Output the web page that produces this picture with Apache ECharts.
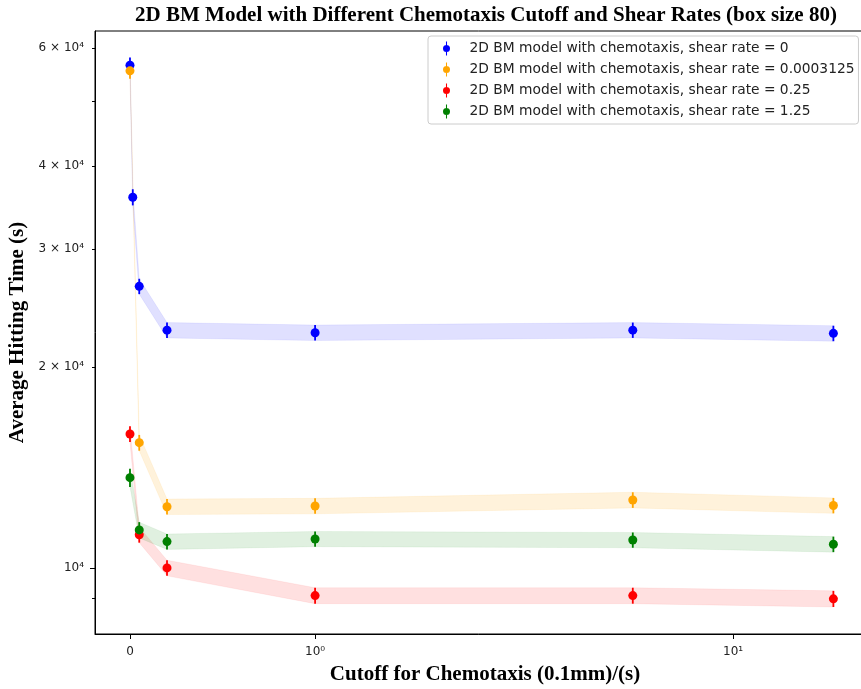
<!DOCTYPE html>
<html>
<head>
<meta charset="utf-8">
<script src="https://cdn.jsdelivr.net/npm/echarts@6/dist/echarts.min.js"></script>
<style>html,body{margin:0;padding:0;background:#fff}#c{width:861px;height:689px}</style>
</head>
<body>
<div id="c"></div>
<script>
// ---------------- data ----------------
const titleText = '2D BM Model with Different Chemotaxis Cutoff and Shear Rates (box size 80)';
const xAxisTitle = 'Cutoff for Chemotaxis (0.1mm)/(s)';
const yAxisTitle = 'Average Hitting Time (s)';

const seriesNames = [
  '2D BM model with chemotaxis, shear rate = 0',
  '2D BM model with chemotaxis, shear rate = 0.0003125',
  '2D BM model with chemotaxis, shear rate = 0.25',
  '2D BM model with chemotaxis, shear rate = 1.25'
];
const seriesColors = ['#0000ff', '#ffa500', '#ff0000', '#008000'];
const bandColors = ['rgba(0,0,255,0.12)', 'rgba(255,165,0,0.14)', 'rgba(255,0,0,0.12)', 'rgba(0,128,0,0.12)'];
const bandEdges  = ['rgba(0,0,255,0.06)', 'rgba(255,165,0,0.08)', 'rgba(255,0,0,0.06)', 'rgba(0,128,0,0.06)'];

// cutoff values (x)
const xBlue   = [0, 0.015, 0.05, 0.2, 1, 5, 20];
const xOrange = [0, 0.05, 0.2, 1, 5, 20];
const xRed    = [0, 0.05, 0.2, 1, 5, 20];
const xGreen  = [0, 0.05, 0.2, 1, 5, 20];

// average hitting time (s) and error
const blueVals   = [56600, 35900, 26400, 22700, 22500, 22700, 22450];
const blueErr    = [1500, 1000, 700, 600, 600, 600, 600];
const orangeVals = [55500, 15400, 12350, 12380, 12640, 12400];
const orangeErr  = [1500, 420, 330, 330, 340, 330];
const redVals    = [15870, 11210, 10000, 9090, 9090, 8990];
const redErr     = [430, 300, 270, 250, 250, 250];
const greenVals  = [13650, 11400, 10950, 11050, 11010, 10850];
const greenErr   = [430, 310, 290, 290, 290, 290];

// ticks
const xTickValues = [0, 1, 10];
const xTickLabels = ['0', '10\u2070', '10\u00B9'];
const yTickValues = [10000, 20000, 30000, 40000, 60000];
const yTickLabels = ['10\u2074', '2 \u00D7 10\u2074', '3 \u00D7 10\u2074', '4 \u00D7 10\u2074', '6 \u00D7 10\u2074'];
const yMinorTickValues = [9000, 20000, 30000, 40000, 50000, 60000];
const yMajorTickValues = [10000];

// axis ranges
const xRangeSymlog = [-0.21, 4.472];   // in symlog units
const yRange = [7963, 63670];

// ---------------- scales (matplotlib-like symlog on x, log on y) ----------------
const LINTHRESH = 2, LINSCALE_ADJ = 1 / (1 - 1 / 10);
function symlog(x) {
  const a = Math.abs(x), s = Math.sign(x);
  return a <= LINTHRESH ? x * LINSCALE_ADJ : s * LINTHRESH * (LINSCALE_ADJ + Math.log10(a / LINTHRESH));
}
const lg = Math.log10;

const xs = [xBlue, xOrange, xRed, xGreen];
const vals = [blueVals, orangeVals, redVals, greenVals];
const errs = [blueErr, orangeErr, redErr, greenErr];

function fmtFrom(tickVals, tickLabels, tf) {
  return function (v) {
    for (let i = 0; i < tickVals.length; i++) {
      if (Math.abs(tf(tickVals[i]) - v) < 1e-6) return tickLabels[i];
    }
    return '';
  };
}

const series = [];
for (let k = 0; k < 4; k++) {
  const X = xs[k], V = vals[k], E = errs[k];
  const errData = X.map((x, i) => [symlog(x), lg(V[i] - E[i]), lg(V[i] + E[i])]);
  // band (fill between value-err and value+err)
  series.push({
    type: 'custom', name: 'band_' + k, silent: true,
    data: errData, encode: { x: 0, y: [1, 2] },
    renderItem: (function (fill, edge) {
      return function (params, api) {
        if (params.dataIndexInside !== 0) return null;
        const n = params.dataInsideLength;
        const lower = [], upper = [];
        for (let i = 0; i < n; i++) {
          lower.push(api.coord([api.value(0, i), api.value(1, i)]));
          upper.push(api.coord([api.value(0, i), api.value(2, i)]));
        }
        return { type: 'polygon', shape: { points: lower.concat(upper.reverse()) },
                 style: { fill: fill, stroke: edge, lineWidth: 1 } };
      };
    })(bandColors[k], bandEdges[k]),
    z: 1
  });
  // error bars
  series.push({
    type: 'custom', name: 'err_' + k, silent: true,
    data: errData, encode: { x: 0, y: [1, 2] },
    renderItem: (function (col) {
      return function (params, api) {
        const p1 = api.coord([api.value(0), api.value(1)]);
        const p2 = api.coord([api.value(0), api.value(2)]);
        return { type: 'line', shape: { x1: p1[0], y1: p1[1], x2: p2[0], y2: p2[1] },
                 style: { stroke: col, lineWidth: 1.8 } };
      };
    })(seriesColors[k]),
    z: 3
  });
  // markers
  series.push({
    type: 'scatter', name: seriesNames[k],
    data: X.map((x, i) => [symlog(x), lg(V[i])]),
    symbol: 'circle', symbolSize: 9,
    itemStyle: { color: seriesColors[k], opacity: 1 }, z: 4
  });
}

const legendIcon = 'path://M4.4,0H5.6V16H4.4Z M9,8A4,4 0 1 1 1,8A4,4 0 1 1 9,8Z';

const option = {
  animation: false,
  backgroundColor: '#fff',
  color: seriesColors,
  graphic: [{
    type: 'text', x: 486, y: 16,
    style: { text: titleText, font: 'bold 21px "Liberation Serif"', fill: '#000', align: 'center', verticalAlign: 'middle' }
  }],
  grid: { left: 95, right: -14, top: 31, bottom: 55, show: true, borderColor: '#000', borderWidth: 1,
          containLabel: false, outerBoundsMode: 'none' },
  legend: {
    orient: 'vertical', left: 428, top: 36,
    data: seriesNames.map(n => ({ name: n, icon: legendIcon })),
    itemWidth: 10, itemHeight: 14, itemGap: 6,
    padding: [5, 4, 5, 15],
    backgroundColor: '#fff', borderColor: '#cccccc', borderWidth: 1, borderRadius: 3,
    textStyle: { fontFamily: 'DejaVu Sans', fontSize: 13.8, color: '#222', lineHeight: 15, padding: [0, 0, 0, 13] },
    selectedMode: false
  },
  xAxis: {
    type: 'value', min: xRangeSymlog[0], max: xRangeSymlog[1],
    name: xAxisTitle, nameLocation: 'middle', nameGap: 30,
    nameTextStyle: { fontFamily: 'Liberation Serif', fontWeight: 'bold', fontSize: 21, color: '#000' },
    axisLine: { show: true, onZero: false, lineStyle: { color: '#000', width: 1 } },
    axisTick: { show: true, customValues: xTickValues.map(symlog), length: 5, lineStyle: { color: '#000' } },
    axisLabel: { customValues: xTickValues.map(symlog), formatter: fmtFrom(xTickValues, xTickLabels, symlog),
                 fontFamily: 'DejaVu Sans', fontSize: 12, color: '#222', margin: 12 },
    splitLine: { show: false }
  },
  yAxis: [{
    type: 'value', min: lg(yRange[0]), max: lg(yRange[1]),
    name: yAxisTitle, nameLocation: 'middle', nameGap: 66,
    nameTextStyle: { fontFamily: 'Liberation Serif', fontWeight: 'bold', fontSize: 21, color: '#000' },
    axisLine: { show: true, onZero: false, lineStyle: { color: '#000', width: 1 } },
    axisTick: { show: true, customValues: yMajorTickValues.map(lg), length: 5, lineStyle: { color: '#000' } },
    axisLabel: { customValues: yTickValues.map(lg), formatter: fmtFrom(yTickValues, yTickLabels, lg),
                 fontFamily: 'DejaVu Sans', fontSize: 12, color: '#222', margin: 11 },
    splitLine: { show: false }
  }, {
    type: 'value', min: lg(yRange[0]), max: lg(yRange[1]), position: 'left',
    axisLine: { show: false, onZero: false },
    axisTick: { show: true, customValues: yMinorTickValues.map(lg), length: 3, lineStyle: { color: '#000' } },
    axisLabel: { show: false },
    splitLine: { show: false }
  }],
  series: series
};

const chart = echarts.init(document.getElementById('c'), null, { renderer: 'canvas' });
chart.setOption(option);
</script>
</body>
</html>
